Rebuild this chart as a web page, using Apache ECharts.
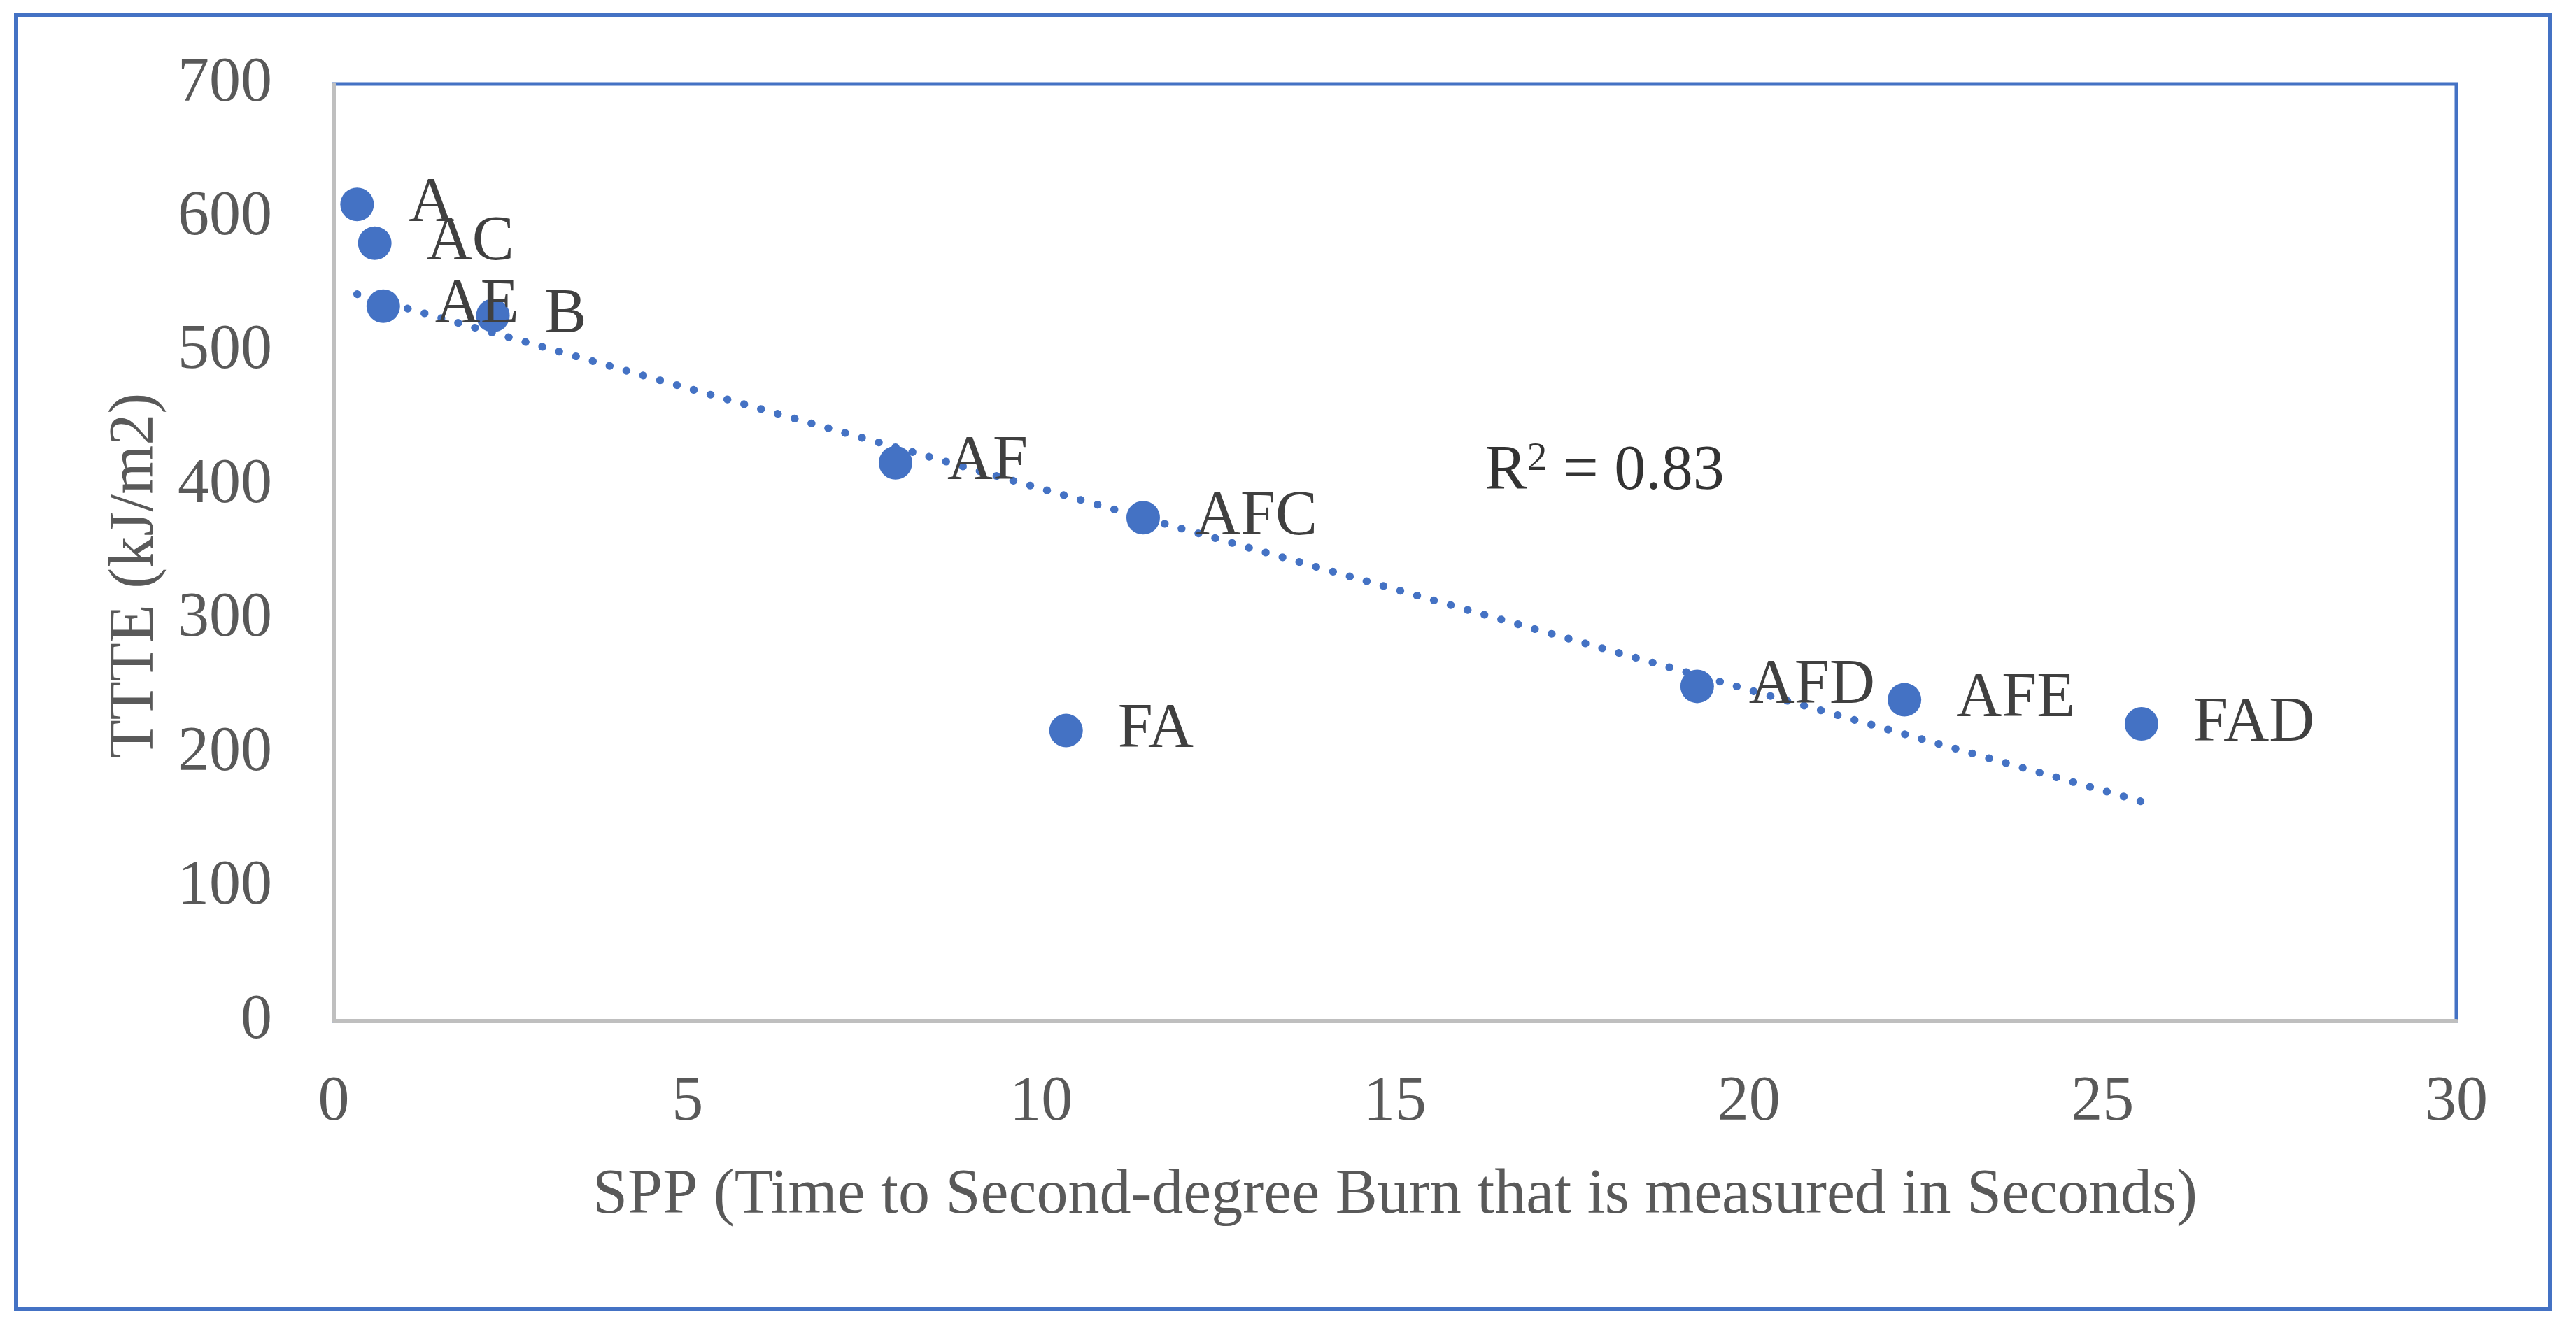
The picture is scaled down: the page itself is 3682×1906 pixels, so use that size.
<!DOCTYPE html>
<html>
<head>
<meta charset="utf-8">
<script src="https://cdn.jsdelivr.net/npm/echarts@6/dist/echarts.min.js"></script>
<style>html,body{margin:0;padding:0;background:#fff}#c{width:3682px;height:1906px}</style>
</head>
<body>
<div id="c"></div>
<script>
const names = ['A','AC','AE','B','AF','AFC','FA','AFD','AFE','FAD'];
const sppSeconds = [0.33, 0.58, 0.70, 2.25, 7.94, 11.44, 10.35, 19.27, 22.2, 25.55];
const ttteValues = [610, 581, 534, 527, 417, 376, 217, 250, 240, 222];
const trendX = [0.33, 25.55];
const trendY = [543, 164];
const r2Text = '0.83';
const r2Pos = [16.27, 410];
const xTicks = [0, 30, 5];
const yTicks = [0, 700, 100];

const FONT = '"Liberation Serif", serif';
const FS = 90;
const chart = echarts.init(document.getElementById('c'));
chart.setOption({
  backgroundColor: '#fff',
  animation: false,
  grid: { left: 477, right: 171, top: 120, bottom: 446, show: true, borderColor: '#4472C4', borderWidth: 5, backgroundColor: 'transparent' },
  xAxis: {
    type: 'value', min: xTicks[0], max: xTicks[1], interval: xTicks[2],
    axisLine: { show: true, lineStyle: { color: '#BFBFBF', width: 6 } },
    axisTick: { show: false }, splitLine: { show: false },
    axisLabel: { color: '#595959', fontFamily: FONT, fontSize: FS, margin: 72 },
    name: 'SPP (Time to Second-degree Burn that is measured in Seconds)',
    nameLocation: 'middle', nameGap: 205,
    nameTextStyle: { color: '#595959', fontFamily: FONT, fontSize: FS }
  },
  yAxis: {
    type: 'value', min: yTicks[0], max: yTicks[1], interval: yTicks[2],
    axisLine: { show: true, lineStyle: { color: '#BFBFBF', width: 5 } },
    axisTick: { show: false }, splitLine: { show: false },
    axisLabel: { color: '#595959', fontFamily: FONT, fontSize: FS, margin: 88 },
    name: 'TTTE (kJ/m2)',
    nameLocation: 'middle', nameGap: 238, nameRotate: 90,
    nameTextStyle: { color: '#595959', fontFamily: FONT, fontSize: FS, padding: [0, 66, 0, 0] }
  },
  graphic: [{
    type: 'rect', shape: { x: 23, y: 22, width: 3622, height: 1850 },
    style: { fill: 'none', stroke: '#4472C4', lineWidth: 6 }, z: 100
  }],
  series: [
    {
      type: 'line', data: trendX.map((x, i) => [x, trendY[i]]),
      symbol: 'none', z: 3,
      lineStyle: { color: '#4472C4', width: 11, type: [0.5, 24.5], cap: 'round', opacity: 1 }
    },
    {
      type: 'scatter', z: 4,
      data: sppSeconds.map((x, i) => ({ value: [x, ttteValues[i]], name: names[i] })),
      symbol: 'circle', symbolSize: 48,
      itemStyle: { color: '#4472C4', opacity: 1 },
      label: { show: true, position: 'right', distance: 50, formatter: p => p.name,
        color: '#404040', fontFamily: FONT, fontSize: FS }
    },
    {
      type: 'scatter', z: 5, symbolSize: 0, silent: true,
      data: [r2Pos],
      label: { show: true, position: 'right', distance: 0,
        formatter: '{a|R}{s|2}{a| = ' + r2Text + '}',
        rich: {
          a: { color: '#000', fontFamily: FONT, fontSize: FS },
          s: { color: '#000', fontFamily: FONT, fontSize: 58, verticalAlign: 'top', padding: [0, 0, 36, 0] }
        }
      }
    }
  ]
});
</script>
</body>
</html>
